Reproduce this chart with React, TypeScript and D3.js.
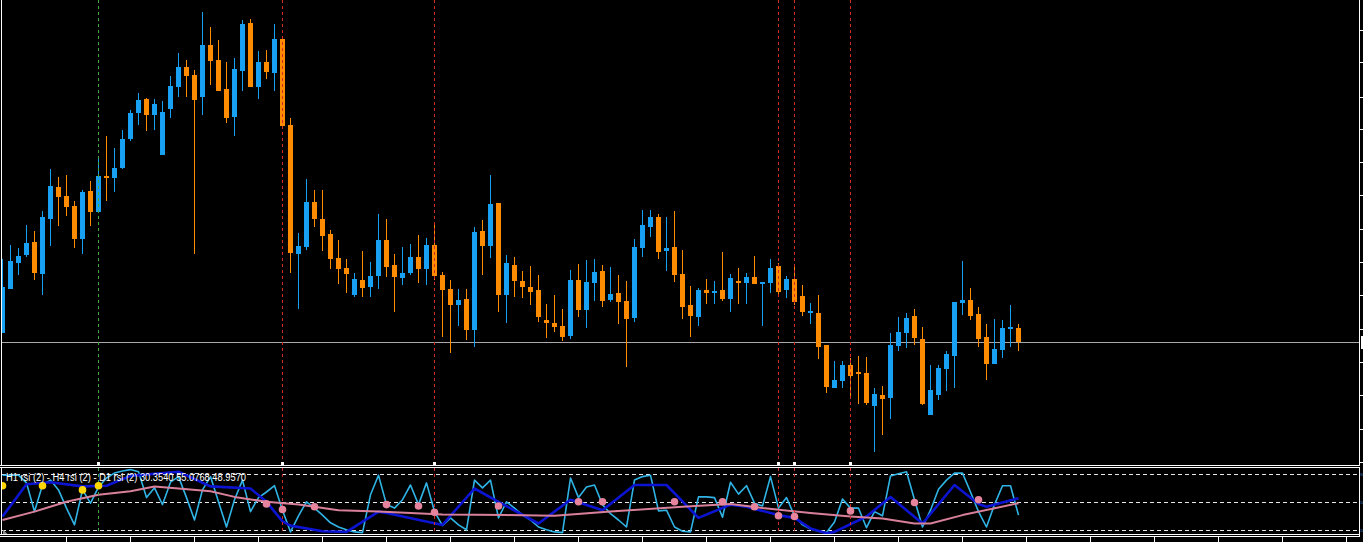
import React from "react";
import * as d3 from "d3";

// ---------- price data (chart price units) ----------
const candleOpen = [
  132, 176, 202, 210, 223, 191, 246, 278, 269, 259,
  226, 274, 253, 289, 287, 297, 326, 352, 366, 350,
  310, 356, 378, 398, 390, 368, 420, 405, 376, 348,
  394, 442, 378, 403, 392, 426, 340, 211, 218, 263,
  246, 231, 207, 197, 170, 185, 178, 189, 225, 200,
  187, 192, 208, 196, 220, 190, 176, 160, 166, 135,
  234, 219, 262, 170, 200, 184, 178, 175, 145, 142,
  139, 129, 185, 155, 182, 194, 165, 172, 164, 147,
  217, 238, 248, 214, 218, 191, 160, 148, 175, 172,
  175, 166, 184, 182, 188, 181, 182, 199, 175, 186,
  169, 152, 152, 120, 77, 84, 100, 93, 92, 59,
  70, 67, 119, 132, 149, 126, 50, 70, 96, 109,
  162, 165, 151, 128, 101, 115, 136, 137,
];
const candleHigh = [
  206, 220, 217, 240, 234, 254, 296, 288, 290, 264,
  275, 284, 306, 329, 317, 335, 355, 372, 367, 366,
  364, 389, 412, 405, 395, 453, 438, 425, 403, 407,
  445, 446, 414, 415, 441, 427, 347, 232, 286, 275,
  275, 235, 225, 206, 192, 214, 203, 251, 246, 211,
  218, 221, 230, 227, 240, 193, 185, 176, 176, 238,
  245, 290, 262, 210, 208, 194, 199, 190, 161, 170,
  156, 195, 201, 205, 206, 200, 198, 190, 184, 226,
  255, 255, 251, 248, 254, 215, 179, 177, 186, 184,
  213, 191, 197, 192, 209, 183, 206, 202, 189, 201,
  180, 162, 170, 120, 104, 104, 107, 109, 108, 77,
  79, 132, 148, 152, 156, 138, 100, 100, 114, 163,
  204, 177, 158, 141, 146, 145, 160, 141,
];
const candleLow = [
  132, 176, 190, 208, 185, 170, 219, 239, 249, 217,
  211, 239, 252, 264, 273, 296, 324, 340, 334, 335,
  310, 347, 368, 368, 211, 350, 380, 374, 342, 329,
  374, 378, 366, 386, 374, 339, 192, 156, 215, 238,
  214, 196, 181, 172, 168, 168, 168, 176, 188, 153,
  180, 190, 182, 180, 185, 128, 112, 139, 125, 118,
  190, 207, 153, 142, 168, 167, 160, 143, 127, 133,
  124, 126, 148, 137, 164, 158, 163, 141, 98, 143,
  208, 228, 206, 194, 183, 146, 128, 139, 161, 161,
  164, 153, 161, 161, 181, 139, 172, 169, 167, 160,
  149, 141, 106, 72, 77, 77, 68, 61, 60, 13,
  30, 46, 114, 117, 120, 60, 50, 65, 74, 77,
  150, 145, 118, 85, 101, 107, 118, 114,
];
const candleClose = [
  178, 204, 209, 222, 192, 248, 279, 268, 258, 226,
  273, 253, 289, 287, 297, 326, 352, 365, 350, 361,
  353, 379, 398, 389, 365, 420, 404, 374, 347, 396,
  441, 378, 403, 393, 426, 339, 212, 219, 263, 246,
  229, 206, 196, 191, 186, 177, 189, 225, 198, 188,
  192, 208, 196, 220, 189, 175, 160, 165, 135, 233,
  219, 261, 170, 202, 184, 178, 173, 148, 142, 138,
  128, 185, 155, 183, 193, 164, 171, 163, 146, 218,
  240, 248, 213, 217, 190, 158, 149, 175, 172, 174,
  166, 187, 182, 188, 181, 183, 197, 173, 186, 163,
  153, 154, 118, 78, 85, 100, 89, 91, 62, 71,
  66, 120, 133, 147, 127, 61, 75, 97, 111, 163,
  165, 149, 126, 101, 116, 137, 138, 123,
];

const priceTicks = [435, 403, 368, 336, 303, 270, 236, 203, 170, 136, 103, 70, 36, 3];
const bidPrice = 123;

const redLineBars = [35, 54, 97, 99, 106];
const greenLineBars = [12];

// ---------- indicator data ----------
const rsiH1 = [
  89, 89, 89, 78, 37, 75, 82, 68, 42, 18,
  68, 49, 72, 85, 92, 95, 97, 94, 57, 71,
  47, 79, 87, 57, 25, 68, 87, 51, 15, 54,
  82, 37, 57, 65, 74, 39, 8, 31, 51, 42,
  32, 21, 15, 11, 8, 7, 61, 89, 47, 42,
  54, 75, 47, 78, 37, 17, 28, 18, 11, 82,
  71, 82, 28, 51, 42, 32, 25, 15, 11, 8,
  7, 85, 57, 72, 75, 47, 34, 25, 15, 82,
  87, 89, 38, 39, 15, 9, 8, 58, 58, 57,
  29, 79, 62, 74, 49, 45, 87, 42, 57, 31,
  18, 12, 9, 7, 22, 55, 42, 42, 14, 37,
  31, 88, 91, 94, 54, 15, 39, 69, 82, 92,
  92, 65, 37, 15, 47, 74, 74, 32,
];
const rsiH4Bars = [0, 3, 6, 10, 13, 16, 22, 26, 31, 33, 35, 36, 40, 43, 47, 48, 55, 59, 62, 67, 71, 75, 79, 83, 87, 91, 93, 97, 99, 101, 103, 104, 108, 111, 115, 119, 122, 123, 127];
const rsiH4Values = [30, 76, 79, 73, 74, 88, 94, 73, 70, 51, 23, 17, 9, 8, 37, 35, 18, 70, 51, 20, 54, 39, 75, 75, 28, 47, 44, 32, 28, 13, 6, 8, 30, 58, 20, 75, 48, 44, 56];
const rsiD1Bars = [0, 4, 8, 12, 16, 19, 22, 26, 29, 33, 37, 42, 47, 55, 63, 69, 76, 85, 91, 95, 101, 106, 110, 114, 116, 120, 127];
const rsiD1Values = [25, 37, 51, 61, 66, 73, 70, 66, 58, 51, 47, 39, 37, 33, 32, 31, 37, 44, 48, 42, 35, 30, 27, 20, 20, 32, 49];
const yellowDotBars = [0, 5, 10, 12];
const yellowDotValues = [74, 74, 68, 74];
const pinkDotBars = [33, 35, 39, 48, 52, 54, 62, 72, 75, 84, 90, 94, 97, 99, 106, 114, 122];
const pinkDotValues = [48, 40, 44, 47, 45, 36, 45, 51, 51, 51, 51, 44, 31, 30, 38, 50, 54];
const rsiLevels = [90, 50, 10];
const legendText = "H1 rsi (2) - H4 rsi (2) - D1 rsi (2) 30.3540 55.0768 48.9570";
const timeTickBars = d3.range(8, 169, 8);

// ---------- colours ----------
const BULL = "#18a0f2";
const BEAR = "#ff8c00";
const H1C = "#30b4e6";
const H4C = "#0c14d2";
const D1C = "#d8809a";
const DOTPINK = "#e6849e";
const DOTYEL = "#ffd700";
const REDV = "#d42a2a";
const GREENV = "#45a845";

const W = 1363;
const H = 542;
const MAIN_BOTTOM = 465;

export default function App() {
  const x = d3.scaleLinear().domain([0, 127]).range([2, 1018]);
  const yMain = d3.scaleLinear().domain([0, 465]).range([465, 0]);
  const ySub = d3.scaleLinear().domain([0, 100]).range([537.5, 467.5]);

  const candles = candleOpen.map((o, i) => ({
    i,
    o,
    h: candleHigh[i],
    l: candleLow[i],
    c: candleClose[i],
  }));

  const line = d3
    .line<[number, number]>()
    .x((d) => x(d[0]) + 0.5)
    .y((d) => ySub(d[1]));

  const h1Path = line(rsiH1.map((v, i) => [i, v] as [number, number])) || "";
  const h4Path = line(rsiH4Bars.map((b, k) => [b, rsiH4Values[k]] as [number, number])) || "";
  const d1Path = line(rsiD1Bars.map((b, k) => [b, rsiD1Values[k]] as [number, number])) || "";

  const vlines = [
    ...redLineBars.map((b) => ({ b, color: REDV })),
    ...greenLineBars.map((b) => ({ b, color: GREENV })),
  ];

  return (
    <svg
      width={W}
      height={H}
      style={{ position: "fixed", left: 0, top: 0, background: "#000" }}
      shapeRendering="crispEdges"
    >
      <defs>
        <clipPath id="mainClip">
          <rect x={2} y={0} width={1357} height={MAIN_BOTTOM} />
        </clipPath>
        <clipPath id="subClip">
          <rect x={2} y={468} width={1357} height={67} />
        </clipPath>
      </defs>
      <rect x={0} y={0} width={W} height={H} fill="#000" />

      {/* ---------- main panel ---------- */}
      <g clipPath="url(#mainClip)">
        <line
          x1={0}
          x2={1359}
          y1={yMain(bidPrice) + 0.5}
          y2={yMain(bidPrice) + 0.5}
          stroke="#a8a8a8"
          strokeWidth={1}
        />
        {candles.map((d) => {
          const cx = x(d.i);
          const col = d.c >= d.o ? BULL : BEAR;
          const top = yMain(Math.max(d.o, d.c));
          const bot = yMain(Math.min(d.o, d.c));
          return (
            <g key={d.i}>
              <line
                x1={cx + 0.5}
                x2={cx + 0.5}
                y1={yMain(d.h)}
                y2={yMain(d.l)}
                stroke={col}
                strokeWidth={1}
              />
              <rect x={cx - 2} y={top} width={5} height={Math.max(1, bot - top)} fill={col} />
            </g>
          );
        })}
        {vlines.map((v, k) => (
          <line
            key={k}
            x1={x(v.b) + 0.5}
            x2={x(v.b) + 0.5}
            y1={0}
            y2={MAIN_BOTTOM - 1}
            stroke={v.color}
            strokeWidth={1}
            strokeDasharray="3,3"
          />
        ))}
      </g>
      {vlines.map((v, k) => (
        <rect key={k} x={x(v.b) - 1} y={462} width={3} height={3} fill="#fff" />
      ))}

      {/* main frame */}
      <line x1={1.5} x2={1.5} y1={0} y2={MAIN_BOTTOM + 1} stroke="#fff" />
      <line x1={1359.5} x2={1359.5} y1={0} y2={MAIN_BOTTOM + 1} stroke="#fff" />
      <line x1={0} x2={1360} y1={MAIN_BOTTOM + 0.5} y2={MAIN_BOTTOM + 0.5} stroke="#fff" />
      {priceTicks.map((p) => (
        <line key={p} x1={1360} x2={1364} y1={yMain(p) + 0.5} y2={yMain(p) + 0.5} stroke="#fff" />
      ))}
      <rect x={1361} y={yMain(bidPrice) - 6} width={10} height={13} fill="#fff" />

      {/* ---------- indicator panel ---------- */}
      <line x1={0} x2={1360} y1={467.5} y2={467.5} stroke="#fff" />
      <g clipPath="url(#subClip)">
        {rsiLevels.map((lv) => (
          <line
            key={lv}
            x1={2}
            x2={1357}
            y1={ySub(lv)}
            y2={ySub(lv)}
            stroke="#e8e8e8"
            strokeWidth={1}
            strokeDasharray="4,3"
          />
        ))}
        <g shapeRendering="geometricPrecision" fill="none" strokeLinejoin="round">
          <path d={h1Path} stroke={H1C} strokeWidth={1.6} />
          <path d={h4Path} stroke={H4C} strokeWidth={2.6} />
          <path d={d1Path} stroke={D1C} strokeWidth={2} />
        </g>
        {vlines.map((v, k) => (
          <line
            key={k}
            x1={x(v.b) + 0.5}
            x2={x(v.b) + 0.5}
            y1={468}
            y2={532}
            stroke={v.color}
            strokeWidth={1}
            strokeDasharray="3,3"
          />
        ))}
        <g shapeRendering="geometricPrecision">
          {yellowDotBars.map((b, k) => (
            <circle key={k} cx={x(b) + 0.5} cy={ySub(yellowDotValues[k])} r={3.8} fill={DOTYEL} />
          ))}
          {pinkDotBars.map((b, k) => (
            <circle key={k} cx={x(b) + 0.5} cy={ySub(pinkDotValues[k])} r={3.8} fill={DOTPINK} />
          ))}
        </g>
        <path d="M3,535 L3,530 L8,535 Z" fill="#888" />
        <text
          x={6}
          y={481}
          fill="#fff"
          fontFamily="'Liberation Sans', Arial, sans-serif"
          fontSize={10}
          textLength={240}
          lengthAdjust="spacingAndGlyphs"
          shapeRendering="geometricPrecision"
        >
          {legendText}
        </text>
      </g>
      <line x1={1.5} x2={1.5} y1={467} y2={535} stroke="#fff" />
      <line x1={1359.5} x2={1359.5} y1={467} y2={537} stroke="#fff" />
      <line x1={0} x2={1360} y1={534.5} y2={534.5} stroke="#fff" />
      <line x1={0} x2={1360} y1={536.5} y2={536.5} stroke="#fff" />
      {rsiLevels.map((lv) => (
        <text
          key={lv}
          x={1360.3}
          y={ySub(lv) + 1.5}
          fill="#4a80d0"
          fontFamily="'Liberation Sans', Arial, sans-serif"
          fontSize={2.6}
        >
          {lv}
        </text>
      ))}
      {timeTickBars.map((b) => (
        <line key={b} x1={x(b) + 0.5} x2={x(b) + 0.5} y1={537} y2={542} stroke="#fff" />
      ))}
    </svg>
  );
}
